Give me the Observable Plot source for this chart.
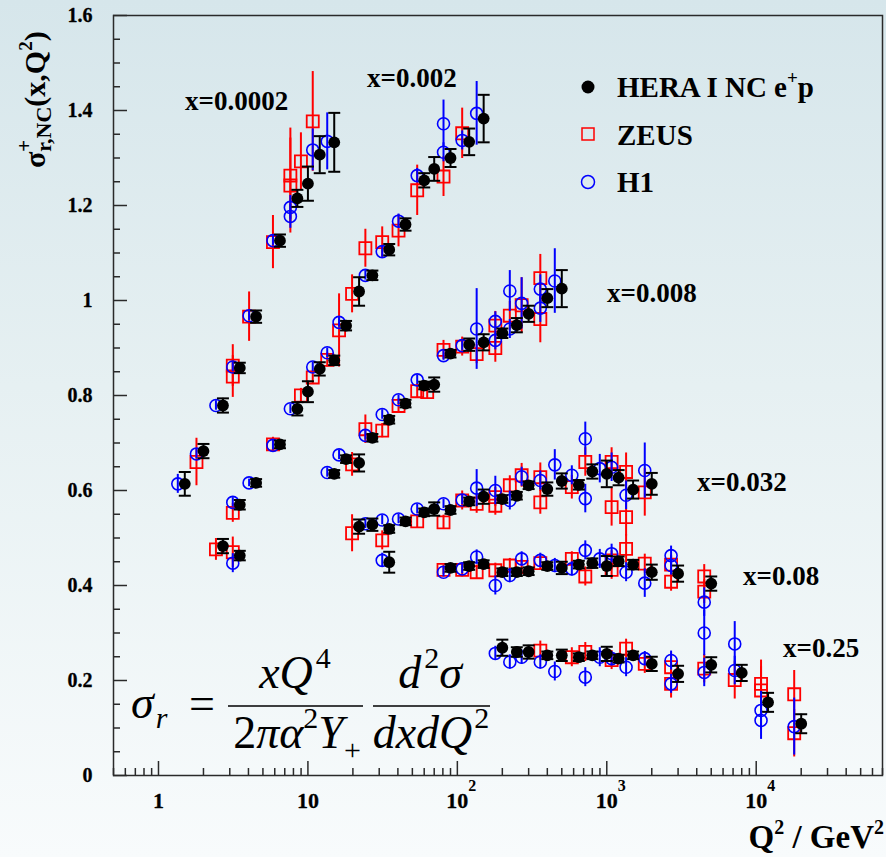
<!DOCTYPE html>
<html><head><meta charset="utf-8">
<script src="https://cdn.jsdelivr.net/npm/d3@7"></script>
<script src="https://cdn.jsdelivr.net/npm/@observablehq/plot@0.6"></script>
<style>
html,body{margin:0;padding:0;}
body{width:886px;height:857px;overflow:hidden;background:linear-gradient(to bottom,#d6e6eb 0%,#e6f0f2 45%,#f8fbfc 100%);font-family:"Liberation Serif",serif;}
#wrap{position:relative;width:886px;height:857px;}
#wrap svg{position:absolute;left:0;top:0;}
</style></head><body><div id="wrap"></div>
<script>
// ---- data: [Q2 (GeV^2), sigma_r, error] ----
// HERA I combined NC e+p
const hera0002 = [[1.5,.614,.025],[2,.683,.015],[2.7,.779,.015],[3.5,.858,.011],[4.5,.966,.013],[6.5,1.126,.013],[8.5,1.215,.018],[10,1.246,.036],[12,1.307,.039],[15,1.333,.062]];
const hera002 = [[2.7,.483,.015],[3.5,.570,.01],[4.5,.616,.008],[6.5,.697,.008],[8.5,.772,.014],[10,.808,.022],[12,.856,.014],[15,.874,.01],[18,.947,.01],[22,1.019,.03],[27,1.053,.01],[35,1.107,.012],[45,1.160,.013],[60,1.253,.015],[70,1.277,.025],[90,1.300,.019],[120,1.334,.028],[150,1.383,.05]];
const hera008 = [[3.5,.463,.01],[15,.635,.008],[18,.666,.008],[22,.658,.018],[27,.711,.008],[35,.749,.008],[45,.783,.008],[60,.821,.008],[70,.823,.015],[90,.888,.008],[120,.907,.013],[150,.912,.017],[200,.931,.01],[250,.948,.015],[300,.972,.017],[400,1.005,.019],[500,1.025,.039]];
const hera032 = [[22,.524,.015],[27,.528,.013],[35,.519,.008],[35,.449,.022],[45,.535,.008],[60,.554,.008],[70,.561,.014],[90,.559,.008],[120,.577,.008],[150,.587,.015],[200,.582,.008],[250,.589,.008],[300,.611,.008],[400,.603,.014],[500,.620,.016],[650,.612,.01],[800,.640,.015],[1000,.635,.028],[1200,.627,.016],[1500,.602,.019],[2000,.614,.023]];
const hera08 = [[90,.437,.008],[120,.441,.008],[150,.445,.008],[200,.428,.008],[250,.428,.008],[300,.430,.008],[400,.441,.008],[500,.437,.013],[650,.444,.008],[800,.447,.01],[1000,.441,.021],[1200,.451,.01],[1500,.444,.01],[2000,.428,.016],[3000,.425,.017],[5000,.404,.015]];
const hera25 = [[200,.269,.017],[250,.260,.01],[300,.260,.014],[400,.253,.008],[500,.253,.012],[650,.249,.008],[800,.253,.008],[1000,.256,.015],[1200,.246,.008],[1500,.253,.008],[2000,.235,.015],[3000,.214,.017],[5000,.233,.016],[8000,.216,.017],[12000,.154,.02],[20000,.109,.02]];
// ZEUS
const zeus0002 = [[2,.660,.05],[3.5,.863,.044],[3.5,.840,.044],[4.5,.966,.052],[6.5,1.123,.056],[8.5,1.263,.1],[8.5,1.242,.1],[10,1.293,.06],[12,1.377,.105]];
const zeus002 = [[2.7,.476,.023],[3.5,.553,.02],[6.5,.697,.015],[10,.800,.015],[12,.838,.015],[15,.875,.015],[18,.937,.077],[22,1.014,.04],[27,1.110,.04],[35,1.123,.032],[45,1.147,.034],[60,1.232,.053],[90,1.261,.042],[120,1.352,.053]];
const zeus008 = [[3.5,.470,.032],[22,.655,.025],[27,.729,.03],[35,.726,.015],[45,.778,.015],[60,.809,.015],[70,.807,.015],[90,.896,.02],[120,.903,.02],[150,.887,.02],[200,.947,.03],[200,.900,.03],[250,.968,.03],[300,.990,.058],[400,1.047,.05],[400,.961,.05]];
const zeus032 = [[22,.510,.039],[35,.495,.02],[60,.535,.015],[90,.533,.015],[120,.579,.02],[150,.572,.02],[200,.586,.02],[200,.568,.02],[250,.611,.02],[300,.632,.025],[400,.628,.03],[400,.575,.025],[650,.607,.025],[800,.660,.03],[1200,.660,.03],[1200,.565,.04],[1500,.639,.04],[1500,.544,.04],[2000,.596,.05]];
const zeus08 = [[90,.433,.01],[120,.433,.015],[150,.428,.015],[200,.432,.015],[250,.442,.015],[300,.439,.015],[400,.447,.015],[650,.456,.015],[800,.419,.02],[1200,.433,.02],[1200,.453,.02],[1500,.477,.03],[2000,.446,.02],[3000,.444,.02],[3000,.408,.02],[5000,.419,.025],[5000,.387,.025]];
const zeus25 = [[400,.263,.02],[650,.249,.02],[800,.260,.02],[1200,.243,.02],[1500,.267,.02],[2000,.235,.02],[3000,.228,.03],[3000,.193,.03],[5000,.225,.03],[8000,.201,.04],[12000,.193,.05],[12000,.179,.05],[20000,.171,.05],[20000,.089,.05]];
// H1
const h10002 = [[1.5,.614,.02],[2,.677,.01],[2.7,.779,.01],[3.5,.860,.01],[4.5,.968,.01],[6.5,1.126,.01],[8.5,1.196,.025],[8.5,1.177,.025],[12,1.317,.044],[15,1.335,.06]];
const h1002 = [[3.5,.575,.01],[4.5,.616,.008],[6.5,.695,.01],[8.5,.772,.01],[12,.860,.01],[15,.890,.01],[18,.954,.01],[27,1.053,.01],[35,1.103,.012],[45,1.167,.015],[60,1.263,.015],[90,1.372,.05],[90,1.312,.02],[120,1.337,.02],[150,1.394,.067]];
const h1008 = [[3.5,.447,.02],[15,.638,.01],[18,.675,.01],[27,.716,.01],[35,.760,.01],[45,.791,.01],[60,.833,.01],[90,.884,.01],[120,.905,.01],[150,.940,.085],[200,.956,.02],[200,.916,.02],[250,1.020,.043],[250,.940,.02],[300,.994,.054],[400,1.024,.03],[400,.984,.03],[500,1.041,.068]];
const h1032 = [[27,.530,.01],[35,.538,.01],[35,.453,.015],[45,.540,.01],[60,.561,.01],[90,.572,.01],[120,.580,.01],[150,.605,.039],[200,.600,.03],[250,.579,.02],[300,.629,.02],[400,.621,.02],[500,.654,.032],[650,.632,.02],[800,.709,.035],[800,.583,.03],[1000,.646,.03],[1200,.649,.03],[1500,.590,.03],[2000,.642,.058]];
const h108 = [[90,.428,.01],[120,.435,.01],[150,.460,.015],[200,.400,.02],[250,.421,.015],[300,.456,.015],[400,.453,.015],[500,.442,.015],[650,.435,.015],[800,.474,.02],[1000,.456,.02],[1200,.467,.02],[1500,.428,.02],[2000,.405,.03],[3000,.463,.02],[3000,.442,.02],[5000,.365,.03],[5000,.300,.048]];
const h125 = [[200,.257,.015],[250,.239,.015],[300,.249,.015],[400,.239,.015],[500,.219,.02],[800,.207,.02],[1000,.249,.02],[1200,.246,.015],[1500,.228,.02],[2000,.246,.015],[3000,.242,.02],[3000,.193,.02],[5000,.217,.03],[8000,.277,.047],[8000,.221,.03],[12000,.137,.04],[12000,.116,.04],[20000,.103,.06]];

// ---- ticks & labels ----
const yTickValues = [0,0.2,0.4,0.6,0.8,1,1.2,1.4,1.6];
const yTickLabels = ["0","0.2","0.4","0.6","0.8","1","1.2","1.4","1.6"];
const xTickValues = [1,10,100,1000,10000];
const xTickLabels = ["1","10","10","10","10"];
const xTickExps = ["","","2","3","4"];
const binLabels = ["x=0.0002","x=0.002","x=0.008","x=0.032","x=0.08","x=0.25"];
const legendLabels = ["HERA I NC e","ZEUS","H1"];

const toRows = (...arrs) => arrs.flat().map(([q,s,e]) => ({q,s,e}));
const hera = toRows(hera0002,hera002,hera008,hera032,hera08,hera25);
const zeus = toRows(zeus0002,zeus002,zeus008,zeus032,zeus08,zeus25);
const h1 = toRows(h10002,h1002,h1008,h1032,h108,h125);

const yMinor = d3.range(0, 33).map(i => +(i*0.05).toFixed(2)).filter(v => !yTickValues.includes(v));
const xMinor = [];
for (const dec of [0.1,1,10,100,1000,10000]) for (let k=2;k<=9;k++){ const v=k*dec; if (v>=0.5 && v<=70000) xMinor.push(v); }

const RED="#ff0000", BLUE="#0000ff", AX="#2a2a2a", FONT="Liberation Serif";
const capSym = {draw(ctx){ ctx.moveTo(-6,0); ctx.lineTo(6,0); }};
const SHIFT = -7;

const plot = Plot.plot({
  width: 886, height: 857,
  marginLeft: 113, marginRight: 4, marginTop: 15, marginBottom: 82,
  style: "background: transparent; overflow: visible; color: #000; font-family: 'Liberation Serif', serif;",
  x: {type: "log", domain: [0.5, 70000]},
  y: {domain: [0, 1.6]},
  marks: [
    Plot.axisY(yTickValues, {tickSize: -14, fill: "none", stroke: AX, strokeWidth: 1.5, label: null}),
    Plot.axisY(yMinor, {tickSize: -7, fill: "none", stroke: AX, strokeWidth: 1.5, label: null}),
    Plot.axisX(xTickValues, {tickSize: -14, fill: "none", stroke: AX, strokeWidth: 1.5, label: null}),
    Plot.axisX(xMinor, {tickSize: -7, fill: "none", stroke: AX, strokeWidth: 1.5, label: null}),
    Plot.text(yTickValues, {y: d => d, text: d => yTickLabels[yTickValues.indexOf(d)], frameAnchor: "left", textAnchor: "end", dx: -21, fontFamily: FONT, fontSize: 20, fontWeight: "bold", fill: "#000", stroke: "#000", strokeWidth: 0.3}),
    Plot.text(xTickValues, {x: d => d, text: d => xTickLabels[xTickValues.indexOf(d)], frameAnchor: "bottom", lineAnchor: "top", dy: 17, fontFamily: FONT, fontSize: 22, fontWeight: "bold", fill: "#000", stroke: "#000", strokeWidth: 0.3}),
    Plot.text(xTickValues, {x: d => d, text: d => xTickExps[xTickValues.indexOf(d)], frameAnchor: "bottom", textAnchor: "start", dy: 15, dx: 11, fontFamily: FONT, fontSize: 16, fontWeight: "bold", fill: "#000"}),
    Plot.frame({stroke: AX, strokeWidth: 1.5}),
    // ZEUS
    Plot.ruleX(zeus, {x: "q", y1: d => d.s - d.e, y2: d => d.s + d.e, stroke: RED, strokeWidth: 2, dx: SHIFT}),
    Plot.dot(zeus, {x: "q", y: "s", symbol: "square", r: 6.8, stroke: RED, fill: "none", strokeWidth: 1.8, dx: SHIFT}),
    // H1
    Plot.ruleX(h1, {x: "q", y1: d => d.s - d.e, y2: d => d.s + d.e, stroke: BLUE, strokeWidth: 2, dx: SHIFT}),
    Plot.dot(h1, {x: "q", y: "s", r: 6, stroke: BLUE, fill: "none", strokeWidth: 1.6, dx: SHIFT}),
    // HERA
    Plot.ruleX(hera, {x: "q", y1: d => d.s - d.e, y2: d => d.s + d.e, stroke: "#000", strokeWidth: 2}),
    Plot.dot(hera, {x: "q", y: d => d.s + d.e, symbol: capSym, stroke: "#000", fill: "none", strokeWidth: 2}),
    Plot.dot(hera, {x: "q", y: d => d.s - d.e, symbol: capSym, stroke: "#000", fill: "none", strokeWidth: 2}),
    Plot.dot(hera, {x: "q", y: "s", r: 5.9, fill: "#000", stroke: "none"})
  ]
});
const wrap = document.getElementById("wrap");
wrap.appendChild(plot);

// ---- overlay annotations ----
const ov = d3.select(wrap).append("svg").attr("width", 886).attr("height", 857)
  .style("pointer-events","none").attr("font-family", FONT);

// y-axis title
const yt = ov.append("text").attr("transform","translate(45,168) rotate(-90)").attr("font-weight","bold").attr("font-size",30);
yt.append("tspan").text("σ");
yt.append("tspan").attr("font-size",21).attr("dy",-14).text("+");
yt.append("tspan").attr("font-size",22).attr("dx",-12).attr("dy",20).text("r,NC");
yt.append("tspan").attr("dy",-6).text("(x,Q");
yt.append("tspan").attr("font-size",19).attr("dy",-13).text("2");
yt.append("tspan").attr("dy",13).text(")");

// x-axis title
const xt = ov.append("text").attr("x",884).attr("y",848).attr("text-anchor","end").attr("font-weight","bold").attr("font-size",33);
xt.append("tspan").text("Q");
xt.append("tspan").attr("font-size",20).attr("dy",-14).text("2");
xt.append("tspan").attr("dy",14).text(" / GeV");
xt.append("tspan").attr("font-size",20).attr("dy",-14).text("2");

// bin labels
const binPos = [[185,110],[367,87],[607,302],[697,491],[743,585],[783,657]];
binLabels.forEach((t,i) => ov.append("text").attr("x",binPos[i][0]).attr("y",binPos[i][1]).attr("font-weight","bold").attr("font-size",27).text(t));

// legend
ov.append("circle").attr("cx",588).attr("cy",87).attr("r",6.5).attr("fill","#000");
ov.append("rect").attr("x",582).attr("y",128).attr("width",12).attr("height",12).attr("fill","none").attr("stroke",RED).attr("stroke-width",1.5);
ov.append("circle").attr("cx",588).attr("cy",182).attr("r",6.5).attr("fill","none").attr("stroke",BLUE).attr("stroke-width",1.5);
const lg0 = ov.append("text").attr("x",617).attr("y",97).attr("font-weight","bold").attr("font-size",29);
lg0.append("tspan").text(legendLabels[0]);
lg0.append("tspan").attr("font-size",19).attr("dy",-13).text("+");
lg0.append("tspan").attr("dy",13).text("p");
ov.append("text").attr("x",617).attr("y",145).attr("font-weight","bold").attr("font-size",29).text(legendLabels[1]);
ov.append("text").attr("x",617).attr("y",192).attr("font-weight","bold").attr("font-size",29).text(legendLabels[2]);

// formula
const F = 46, FS = 30;
const f0 = ov.append("text").attr("x",131).attr("y",718).attr("font-size",F).attr("font-style","italic");
f0.append("tspan").text("σ");
f0.append("tspan").attr("font-size",FS).attr("dy",10).attr("dx",2).text("r");
ov.append("text").attr("x",189).attr("y",719).attr("font-size",F).text("=");
const n1 = ov.append("text").attr("x",295).attr("y",688).attr("font-size",F).attr("text-anchor","middle");
n1.append("tspan").attr("font-style","italic").text("xQ");
n1.append("tspan").attr("font-size",FS).attr("dy",-20).attr("dx",3).text("4");
const d1 = ov.append("text").attr("x",297).attr("y",748).attr("font-size",F).attr("text-anchor","middle");
d1.append("tspan").text("2");
d1.append("tspan").attr("font-style","italic").text("πα");
d1.append("tspan").attr("font-size",FS).attr("dy",-20).text("2");
d1.append("tspan").attr("font-style","italic").attr("dy",20).text("Y");
d1.append("tspan").attr("font-size",FS).attr("dy",12).text("+");
const n2 = ov.append("text").attr("x",430).attr("y",688).attr("font-size",F).attr("text-anchor","middle");
n2.append("tspan").attr("font-style","italic").text("d");
n2.append("tspan").attr("font-size",FS).attr("dy",-20).attr("dx",3).text("2");
n2.append("tspan").attr("font-style","italic").attr("dy",20).text("σ");
const d2 = ov.append("text").attr("x",431).attr("y",748).attr("font-size",F).attr("text-anchor","middle");
d2.append("tspan").attr("font-style","italic").text("dxdQ");
d2.append("tspan").attr("font-size",FS).attr("dy",-20).attr("dx",2).text("2");
ov.append("line").attr("x1",228).attr("x2",363).attr("y1",706).attr("y2",706).attr("stroke","#000").attr("stroke-width",1.5);
ov.append("line").attr("x1",373).attr("x2",490).attr("y1",706).attr("y2",706).attr("stroke","#000").attr("stroke-width",1.5);
</script>
</body></html>
